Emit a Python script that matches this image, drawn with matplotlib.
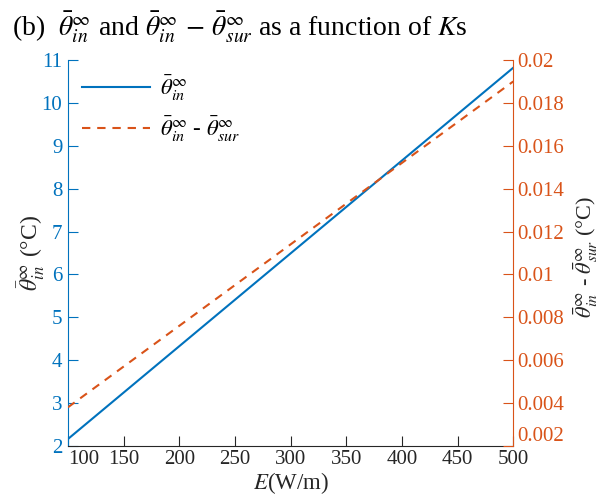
import matplotlib
matplotlib.use("Agg")
import matplotlib.pyplot as plt

plt.rcParams['font.family'] = ['Liberation Serif', 'DejaVu Serif']
plt.rcParams['mathtext.fontset'] = 'stix'

# Line power E (W/m) and the resulting temperatures
E = [100, 500]
theta_in = [2.16, 10.82]            # mean inner temperature (°C)
theta_diff = [0.0038, 0.0190]       # inner minus surface temperature (°C)

x_ticks = [100, 150, 200, 250, 300, 350, 400, 450, 500]
left_ticks = [2, 3, 4, 5, 6, 7, 8, 9, 10, 11]
right_ticks = [0.002, 0.004, 0.006, 0.008, 0.01, 0.012, 0.014, 0.016, 0.018, 0.02]
right_tick_labels = ['0.002', '0.004', '0.006', '0.008', '0.01', '0.012',
                     '0.014', '0.016', '0.018', '0.02']

BLUE = '#0072BD'
ORANGE = '#D95319'
DARK = '#262626'
FS = 15

fig = plt.figure(figsize=(6.01, 4.96), dpi=100)
ax = fig.add_axes([0.113, 0.101, 0.741, 0.778])
ax2 = ax.twinx()

l1, = ax.plot(E, theta_in, color=BLUE, lw=1.5, label=r'$\bar{\theta}_{in}^{\infty}$')
l2, = ax2.plot(E, theta_diff, color=ORANGE, lw=1.5, ls=(0, (4, 3.3)),
               label=r'$\bar{\theta}_{in}^{\infty}$ - $\bar{\theta}_{sur}^{\infty}$')

ax.set_xlim(100, 500)
ax.set_ylim(2, 11)
ax2.set_ylim(0.002, 0.02)

ax.set_xticks(x_ticks)
ax.set_yticks(left_ticks)
ax2.set_yticks(right_ticks)
ax2.set_yticklabels(right_tick_labels)

for a in (ax, ax2):
    a.spines['top'].set_visible(False)

ax.spines['left'].set_color(BLUE)
ax.spines['bottom'].set_color(DARK)
ax.spines['right'].set_visible(False)
ax2.spines['left'].set_visible(False)
ax2.spines['bottom'].set_visible(False)
ax2.spines['right'].set_color(ORANGE)

ax.tick_params(axis='x', direction='in', length=7, width=0.8, colors=DARK,
               labelsize=FS, pad=3)
ax.tick_params(axis='y', direction='in', length=7, width=0.8, colors=BLUE,
               labelsize=FS, pad=4)
ax2.tick_params(axis='y', direction='in', length=7, width=0.8, colors=ORANGE,
                labelsize=FS, pad=3)

# keep the corner labels clear of each other
ax.get_xticklabels()[0].set_horizontalalignment('left')
ax2.get_yticklabels()[0].set_verticalalignment('bottom')

ax.set_xlabel(r'$E$(W/m)', fontsize=16.5, color=DARK, labelpad=0.5)
ax.set_ylabel(r'$\bar{\theta}_{in}^{\infty}$ (°C)', fontsize=17, color=DARK)
ax.yaxis.set_label_coords(-0.047, 0.5)
ax2.set_ylabel(r'$\bar{\theta}_{in}^{\infty}$ - $\bar{\theta}_{sur}^{\infty}$ (°C)',
               fontsize=16, color=DARK, rotation=90)
ax2.yaxis.set_label_coords(1.13, 0.49)

leg = ax.legend(handles=[l1, l2], loc='upper left', frameon=False, fontsize=16.5,
                handlelength=2.97, handletextpad=0.44, borderaxespad=0.2,
                labelspacing=0.55, bbox_to_anchor=(0.0, 1.0))

fig.text(0.02, 0.927, r'(b)  $\bar{\theta}_{in}^{\infty}$ and '
         r'$\bar{\theta}_{in}^{\infty}\,-\,\bar{\theta}_{sur}^{\infty}$ as a function of $K$s',
         fontsize=20, color='black', ha='left', va='baseline')

fig.savefig('out.png', dpi=100)
